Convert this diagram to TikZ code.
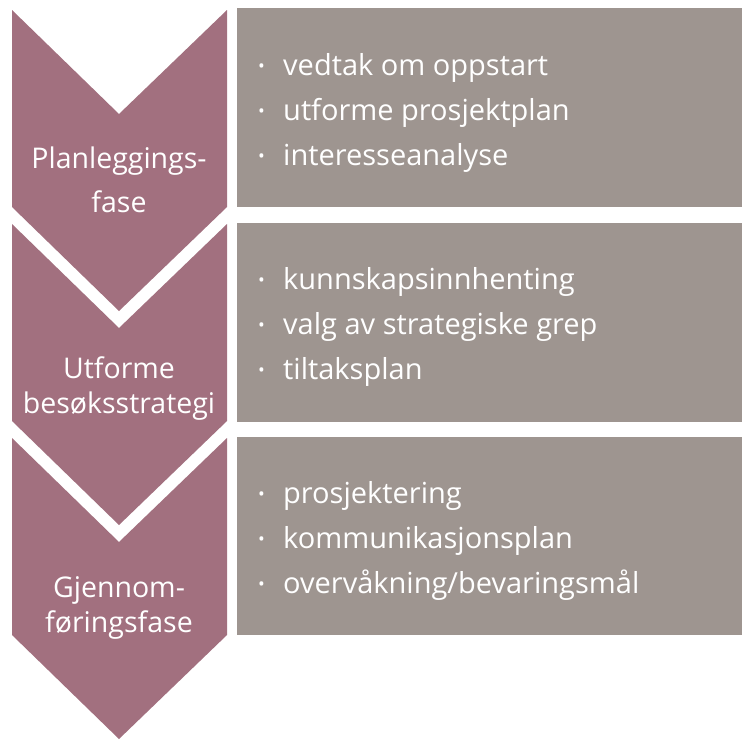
\documentclass[tikz,border=0pt]{standalone}
\usepackage{fontspec}
\setmainfont{Open Sans}[Ligatures=NoCommon]
\usepackage{tikz}

\definecolor{fasefarge}{RGB}{162,112,127}
\definecolor{boksfarge}{RGB}{158,149,144}
\newcommand{\prikk}{\makebox[25pt][l]{\raisebox{3pt}{\fontsize{18}{18}\selectfont •}}}

\begin{document}
\begin{tikzpicture}[x=1pt,y=-1pt,
    fase/.style={fill=fasefarge},
    boks/.style={fill=boksfarge},
    fasetekst/.style={text=white,align=center,inner sep=0pt,anchor=base,
      font=\fontsize{28.5}{35}\selectfont},
    punkt/.style={text=white,inner sep=0pt,anchor=base west,
      font=\fontsize{29}{35}\selectfont}]
  \useasboundingbox (0,0) rectangle (742,740);

  \begin{scope}
    \fill[fase] (12,10) -- (119,114) -- (227,10) -- (227,207) -- (119,311) -- (12,207) -- cycle;
    \fill[boks] (237,8) rectangle (742,207);
    \node[fasetekst] (plan) at (119,212) {Planleggings-\\[9pt]fase};
    \node[punkt] (plan1) at (258,75) {\prikk vedtak om oppstart};
    \node[punkt] (plan2) at (258,120) {\prikk utforme prosjektplan};
    \node[punkt] (plan3) at (258,165) {\prikk interesseanalyse};
  \end{scope}

  \begin{scope}[yshift=-214pt]
    \fill[fase] (12,10) -- (119,114) -- (227,10) -- (227,207) -- (119,311) -- (12,207) -- cycle;
    \fill[boks] (237,9) rectangle (742,208);
    \node[fasetekst] (strategi) at (119,199) {Utforme\\besøksstrategi};
    \node[punkt] (strategi1) at (258,75) {\prikk kunnskapsinnhenting};
    \node[punkt] (strategi2) at (258,120) {\prikk valg av strategiske grep};
    \node[punkt] (strategi3) at (258,165) {\prikk tiltaksplan};
  \end{scope}

  \begin{scope}[yshift=-428pt]
    \fill[fase] (12,10) -- (119,114) -- (227,10) -- (227,207) -- (119,311) -- (12,207) -- cycle;
    \fill[boks] (237,9) rectangle (742,207);
    \node[fasetekst] (gjennom) at (119,204) {Gjennom-\\føringsfase};
    \node[punkt] (gjennom1) at (258,75) {\prikk prosjektering};
    \node[punkt] (gjennom2) at (258,120) {\prikk kommunikasjonsplan};
    \node[punkt] (gjennom3) at (258,165) {\prikk overvåkning/bevaringsmål};
  \end{scope}
\end{tikzpicture}
\end{document}
